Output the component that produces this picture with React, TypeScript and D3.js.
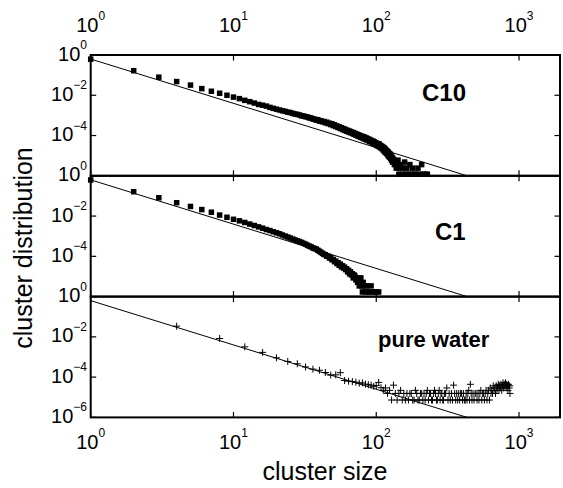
import React from 'react';
import * as d3 from 'd3';

// ---------- data ----------
const xTickValues = [1, 10, 100, 1000];
const xTickExps = ['0', '1', '2', '3'];
const yTickValues = [1, 1e-2, 1e-4, 1e-6];
const yTickExps = ['0', '\u22122', '\u22124', '\u22126'];
const panelLabels = ['C10', 'C1', 'pure water'];

// fitted power law shown in all panels: P(n) = fitAmp * n^fitExp
const fitAmp = 0.63;
const fitExp = -2.2;

const c10Sizes = [1,2,3,4,5,6,7,8,9,10,11,12,13,14,15,16,17,18,19,20,21,22,23,24,25,26,27,28,29,30,
  31,32,33,34,35,36,37,38,39,40,41,42,43,44,45,46,47,48,49,50,51,52,53,54,55,56,57,58,59,60,
  61,62,63,64,65,66,67,68,69,70,71,72,73,74,75,76,77,78,79,80,81,82,83,84,85,86,87,88,89,90,
  91,92,93,94,95,96,97,98,99,100,101,102,103,104,105,106,107,108,109,110,111,112,113,114,115,116,117,118,119,120,
  121,122,123,124,125,126,127,128,129,130,131,133,134,136,138,140,142,144,146,149,152,155,158,161,164,168,172,176,180,185,190,196,202,208,213,220,228];
const c10Dist = [0.62,0.166,0.079,0.048,0.032,0.0214,0.0158,0.0126,0.0100,8.1e-3,6.8e-3,5.6e-3,4.8e-3,4.1e-3,3.5e-3,3.2e-3,2.9e-3,2.5e-3,2.24e-3,2.04e-3,1.86e-3,1.7e-3,1.58e-3,1.45e-3,1.38e-3,1.26e-3,1.17e-3,1.12e-3,1.05e-3,9.5e-4,
  9.3e-4,8.6e-4,8.3e-4,7.5e-4,7.4e-4,6.6e-4,6.5e-4,5.8e-4,6.1e-4,5.2e-4,5.4e-4,4.8e-4,5.0e-4,4.3e-4,4.6e-4,3.9e-4,4.1e-4,3.5e-4,3.8e-4,3.1e-4,3.4e-4,2.8e-4,3.0e-4,2.5e-4,2.7e-4,2.25e-4,2.45e-4,2.0e-4,2.2e-4,1.8e-4,
  2.0e-4,1.65e-4,1.8e-4,1.5e-4,1.66e-4,1.38e-4,1.52e-4,1.26e-4,1.4e-4,1.15e-4,1.28e-4,1.05e-4,1.18e-4,9.6e-5,1.08e-4,8.9e-5,1.0e-4,8.2e-5,9.3e-5,7.6e-5,8.8e-5,7.0e-5,8.2e-5,6.5e-5,7.6e-5,6.0e-5,7.0e-5,5.6e-5,6.5e-5,5.2e-5,
  6.0e-5,4.8e-5,5.6e-5,4.4e-5,5.2e-5,4.0e-5,4.8e-5,3.7e-5,4.4e-5,3.4e-5,4.1e-5,3.1e-5,3.6e-5,2.9e-5,3.8e-5,2.7e-5,3.2e-5,2.4e-5,3.0e-5,2.2e-5,2.7e-5,1.9e-5,2.5e-5,1.6e-5,2.2e-5,1.45e-5,1.9e-5,1.3e-5,1.7e-5,1.1e-5,
  1.55e-5,9.5e-6,1.3e-5,8.4e-6,1.2e-5,7.2e-6,1.0e-5,6.0e-6,8.4e-6,4.8e-6,7.2e-6,6.0e-6,3.6e-6,4.8e-6,2.4e-6,3.6e-6,6.0e-6,1.2e-6,2.4e-6,3.6e-6,1.2e-6,2.4e-6,4.8e-6,1.2e-6,2.4e-6,1.2e-6,3.6e-6,1.2e-6,2.4e-6,1.2e-6,1.2e-6,2.4e-6,1.2e-6,3.6e-6,1.2e-6,1.2e-6,1.2e-6];

const c1Sizes = [1,2,3,4,5,6,7,8,9,10,11,12,13,14,15,16,17,18,19,20,21,22,23,24,25,26,27,28,29,30,31,32,33,34,35,36,37,38,39,40,41,42,43,
  44,45,46,47,48,49,50,51,52,53,54,55,56,57,58,59,60,61,62,63,64,65,66,67,68,69,70,71,72,73,74,75,76,77,78,79,80,81,83,84,86,88,90,92,95,98,101,104];
const c1Dist = [0.62,0.162,0.081,0.046,0.030,0.021,0.0155,0.0112,8.7e-3,6.9e-3,5.8e-3,4.8e-3,4.0e-3,3.4e-3,2.9e-3,2.5e-3,2.14e-3,1.9e-3,1.66e-3,1.48e-3,1.32e-3,1.15e-3,1.02e-3,9.1e-4,8.1e-4,7.2e-4,6.5e-4,5.9e-4,5.4e-4,4.9e-4,4.4e-4,4.0e-4,3.55e-4,3.2e-4,2.95e-4,2.6e-4,2.45e-4,2.3e-4,2.0e-4,1.78e-4,1.58e-4,1.41e-4,1.26e-4,
  1.2e-4,1.02e-4,1.0e-4,8.3e-5,8.4e-5,6.8e-5,7.0e-5,5.4e-5,5.8e-5,4.4e-5,4.8e-5,3.6e-5,4.1e-5,3.0e-5,3.4e-5,2.6e-5,2.9e-5,2.2e-5,2.4e-5,1.7e-5,2.0e-5,1.36e-5,1.7e-5,1.19e-5,1.36e-5,8.5e-6,1.19e-5,1.02e-5,6.8e-6,8.5e-6,5.1e-6,6.8e-6,3.4e-6,5.1e-6,8.5e-6,3.4e-6,1.7e-6,5.1e-6,3.4e-6,1.7e-6,3.4e-6,1.7e-6,1.7e-6,3.4e-6,1.7e-6,1.7e-6,1.7e-6,1.7e-6];

const waterSizes = [4,8,12,16,20,24,28,32,36,40,44,48,52,56,60,64,68,72,76,80,84,88,92,96,
  100,104,108,112,116,120,124,128,132,136,140,144,148,152,156,160,164,168,172,176,180,184,188,192,196,200,
  204,208,212,216,220,224,228,232,236,240,244,248,252,256,260,264,268,272,276,280,284,288,292,296,300,
  306,312,318,324,330,336,342,348,354,360,366,372,378,384,390,396,402,408,414,420,426,432,438,444,450,456,462,468,
  476,484,492,500,508,516,524,532,540,548,556,564,572,580,588,596,604,612,620,628,636,644,652,660,668,676,684,692,700,
  708,716,724,732,740,748,756,764,772,780,788,796,804,812,820,828,836,844,852,860,864];
const waterDist = [3.4e-2,8.3e-3,3.2e-3,1.7e-3,9.1e-4,6.0e-4,4.6e-4,3.2e-4,2.5e-4,2.2e-4,1.7e-4,1.26e-4,1.3e-4,1.66e-4,6.8e-5,6.3e-5,6.0e-5,5.6e-5,5.0e-5,5.2e-5,4.5e-5,4.2e-5,4.0e-5,3.5e-5,
  3.8e-5,5.5e-5,3.0e-5,2.2e-5,2.9e-5,1.55e-5,2.2e-5,7.3e-6,4.0e-5,1.55e-5,7.3e-6,1.55e-5,2.2e-5,7.3e-6,1.55e-5,7.3e-6,1.55e-5,7.3e-6,1.55e-5,1.55e-5,7.3e-6,7.3e-6,2.2e-5,1.55e-5,7.3e-6,7.3e-6,
  1.55e-5,1.55e-5,7.3e-6,1.55e-5,7.3e-6,1.55e-5,2.2e-5,7.3e-6,1.55e-5,1.55e-5,7.3e-6,7.3e-6,1.55e-5,2.2e-5,1.55e-5,7.3e-6,7.3e-6,1.55e-5,2.2e-5,7.3e-6,1.55e-5,1.55e-5,7.3e-6,7.3e-6,1.55e-5,
  1.55e-5,2.9e-5,7.3e-6,1.55e-5,7.3e-6,1.55e-5,7.3e-6,4.0e-5,1.55e-5,7.3e-6,1.55e-5,7.3e-6,1.55e-5,7.3e-6,1.55e-5,1.55e-5,7.3e-6,1.55e-5,7.3e-6,7.3e-6,1.55e-5,7.3e-6,1.55e-5,2.2e-5,7.3e-6,4.4e-5,1.55e-5,7.3e-6,
  1.55e-5,7.3e-6,1.55e-5,1.55e-5,7.3e-6,1.55e-5,7.3e-6,1.55e-5,2.2e-5,7.3e-6,1.55e-5,1.55e-5,7.3e-6,1.55e-5,2.2e-5,7.3e-6,1.55e-5,2.2e-5,7.3e-6,2.9e-5,1.55e-5,2.2e-5,1.55e-5,3.7e-5,2.2e-5,2.9e-5,1.55e-5,3.7e-5,2.2e-5,
  2.9e-5,4.4e-5,2.2e-5,3.7e-5,2.9e-5,4.4e-5,2.2e-5,3.7e-5,5.2e-5,2.9e-5,4.4e-5,3.7e-5,5.2e-5,2.9e-5,4.4e-5,3.7e-5,2.2e-5,4.4e-5,2.9e-5,3.7e-5,1.55e-5];

// ---------- layout ----------
const W = 563;
const H = 488;
const LEFT = 90.7;
const RIGHT = 560;
const TOP = 55;
const PANEL_H = 120.8;
const FONT = '"Liberation Sans", Arial, Helvetica, sans-serif';

const x = d3.scaleLog().domain([1, 1936]).range([LEFT, RIGHT]);

type Pt = { n: number; p: number };
const zip = (a: number[], b: number[]): Pt[] => a.map((n, i) => ({ n, p: b[i] }));

const panels = [
  { data: zip(c10Sizes, c10Dist), marker: 'square', label: panelLabels[0], lx: 422, ly: 100.5, fs: 24, yLabels: 3 },
  { data: zip(c1Sizes, c1Dist), marker: 'square', label: panelLabels[1], lx: 435, ly: 240, fs: 24, yLabels: 3 },
  { data: zip(waterSizes, waterDist), marker: 'plus', label: panelLabels[2], lx: 378, ly: 346.5, fs: 22, yLabels: 4 },
];

function Pow({ x: tx, y: ty, exp, anchor }: { x: number; y: number; exp: string; anchor: string }) {
  return (
    <text x={tx} y={ty} textAnchor={anchor} fontFamily={FONT} fontSize={20} fill="#000">
      10
      <tspan dy={-11.5} fontSize={12}>{exp}</tspan>
    </text>
  );
}

export default function App() {
  const fitEnd = Math.pow(1e-6 / fitAmp, 1 / fitExp);
  const fitPts = [1, fitEnd].map((n) => ({ n, p: fitAmp * Math.pow(n, fitExp) }));

  return (
    <svg width={W} height={H} style={{ position: 'absolute', left: 0, top: 0, background: '#fff' }}>
      <rect x={0} y={0} width={W} height={H} fill="#fff" />
      {panels.map((pnl, i) => {
        const y0 = TOP + i * PANEL_H;
        const y1 = y0 + PANEL_H;
        const y = d3.scaleLog().domain([1e-6, 1]).range([y1, y0]);
        const line = d3.line<Pt>().x((d) => x(d.n)).y((d) => y(d.p));
        return (
          <g key={i}>
            <path d={line(fitPts) || ''} fill="none" stroke="#000" strokeWidth={1} />
            {pnl.data.map((d, j) =>
              pnl.marker === 'square' ? (
                <rect key={j} x={x(d.n) - 2.75} y={y(d.p) - 2.75} width={5.5} height={5.5} fill="#000" />
              ) : (
                <path
                  key={j}
                  d={`M${x(d.n) - 3.5},${y(d.p)}H${x(d.n) + 3.5}M${x(d.n)},${y(d.p) - 3.5}V${y(d.p) + 3.5}`}
                  stroke="#000"
                  strokeWidth={1}
                  fill="none"
                />
              )
            )}
            {xTickValues.map((t) => (
              <g key={'xt' + t}>
                <line x1={x(t)} x2={x(t)} y1={y0} y2={y0 + 5.5} stroke="#000" strokeWidth={1.2} />
                <line x1={x(t)} x2={x(t)} y1={y1} y2={y1 - 5.5} stroke="#000" strokeWidth={1.2} />
              </g>
            ))}
            {yTickValues.map((t) => (
              <g key={'yt' + t}>
                <line x1={LEFT} x2={LEFT + 5.5} y1={y(t)} y2={y(t)} stroke="#000" strokeWidth={1.2} />
                <line x1={RIGHT} x2={RIGHT - 5.5} y1={y(t)} y2={y(t)} stroke="#000" strokeWidth={1.2} />
              </g>
            ))}
            {yTickValues.slice(0, pnl.yLabels).map((t, k) => (
              <Pow key={'yl' + k} x={87} y={y(t) + 5.5} exp={yTickExps[k]} anchor="end" />
            ))}
            <rect x={LEFT} y={y0} width={RIGHT - LEFT} height={PANEL_H} fill="none" stroke="#000" strokeWidth={2} />
            <text x={pnl.lx} y={pnl.ly} fontFamily={FONT} fontSize={pnl.fs} fontWeight="bold" fill="#000">
              {pnl.label}
            </text>
          </g>
        );
      })}
      {xTickValues.map((t, k) => (
        <g key={'xl' + k}>
          <Pow x={x(t)} y={31.5} exp={xTickExps[k]} anchor="middle" />
          <Pow x={x(t)} y={448.5} exp={xTickExps[k]} anchor="middle" />
        </g>
      ))}
      <text x={325} y={480} textAnchor="middle" fontFamily={FONT} fontSize={25} fill="#000">
        cluster size
      </text>
      <text
        transform="translate(32,248) rotate(-90)"
        textAnchor="middle"
        fontFamily={FONT}
        fontSize={25}
        fill="#000"
      >
        cluster distribution
      </text>
    </svg>
  );
}
